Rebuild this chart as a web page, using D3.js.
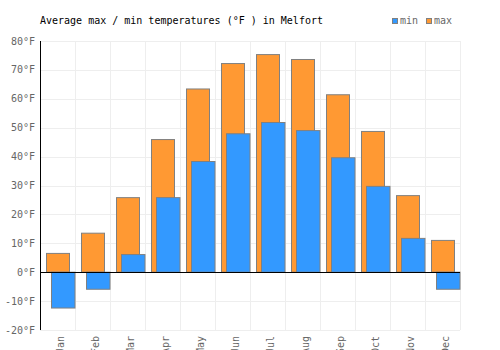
<!DOCTYPE html>
<html>
<head>
<meta charset="utf-8">
<script src="https://cdn.jsdelivr.net/npm/d3@7"></script>
<style>
  body { margin: 0; background: #fff; }
  text { font-family: "DejaVu Sans Mono", monospace; }
</style>
</head>
<body>
<div class="chart"></div>
<script>
let months = ['Jan', 'Feb', 'Mar', 'Apr', 'May', 'Jun', 'Jul', 'Aug', 'Sep', 'Oct', 'Nov', 'Dec'];
let maxTemps = [6.5, 13.5, 25.8, 45.9, 63.4, 72.2, 75.3, 73.6, 61.4, 48.7, 26.5, 11.0];
let minTemps = [-12.4, -5.9, 6.1, 25.8, 38.3, 47.9, 51.8, 49.0, 39.6, 29.7, 11.7, -5.9];
let yTicks = [80, 70, 60, 50, 40, 30, 20, 10, 0, -10, -20];

let _width = 500, _height = 350;
let margin = {left: 40, right: 40, top: 41, bottom: 20};

let svg = d3.select('.chart')
    .append('svg')
    .attr('width', _width)
    .attr('height', _height);

let x = d3.scaleBand()
    .domain(months)
    .range([margin.left, _width - margin.right]);
let y = d3.scaleLinear()
    .domain([-20, 80])
    .range([_height - margin.bottom, margin.top]);

// grid
let grid = svg.append('g').attr('stroke', '#eeeeee').attr('stroke-width', 1);
grid.selectAll('.hgrid')
    .data(yTicks)
    .enter().append('line')
    .attr('x1', margin.left).attr('x2', _width - margin.right)
    .attr('y1', d => Math.round(y(d)) + 0.5).attr('y2', d => Math.round(y(d)) + 0.5);
grid.selectAll('.vgrid')
    .data(months.concat(['end']))
    .enter().append('line')
    .attr('x1', (d, i) => Math.round(margin.left + i * x.bandwidth()) + 0.5)
    .attr('x2', (d, i) => Math.round(margin.left + i * x.bandwidth()) + 0.5)
    .attr('y1', margin.top).attr('y2', _height - margin.bottom);

// max bars (behind)
svg.append('g')
    .selectAll('rect')
    .data(maxTemps)
    .enter().append('rect')
    .attr('x', (d, i) => x(months[i]) + 6.5)
    .attr('width', 23)
    .attr('y', d => y(Math.max(d, 0)))
    .attr('height', d => Math.abs(y(d) - y(0)))
    .style('fill', '#ff9933')
    .attr('stroke', '#808080')
    .attr('stroke-width', 1);

// min bars (front)
svg.append('g')
    .selectAll('rect')
    .data(minTemps)
    .enter().append('rect')
    .attr('x', (d, i) => x(months[i]) + 11.5)
    .attr('width', 23.5)
    .attr('y', d => y(Math.max(d, 0)))
    .attr('height', d => Math.abs(y(d) - y(0)))
    .style('fill', '#3399ff')
    .attr('stroke', '#808080')
    .attr('stroke-width', 1);

// zero line and left axis
svg.append('line')
    .attr('x1', margin.left).attr('x2', _width - margin.right)
    .attr('y1', Math.round(y(0)) + 0.5).attr('y2', Math.round(y(0)) + 0.5)
    .attr('stroke', '#000');
svg.append('line')
    .attr('x1', margin.left + 0.5).attr('x2', margin.left + 0.5)
    .attr('y1', margin.top).attr('y2', _height - margin.bottom)
    .attr('stroke', '#000');

// y labels
svg.append('g')
    .selectAll('text')
    .data(yTicks)
    .enter().append('text')
    .attr('x', 35)
    .attr('y', d => y(d))
    .attr('dy', '0.35em')
    .attr('text-anchor', 'end')
    .attr('fill', '#666')
    .style('font-size', '10px')
    .text(d => d + '°F');

// month labels
svg.append('g')
    .selectAll('text')
    .data(months)
    .enter().append('text')
    .attr('transform', d => 'translate(' + (x(d) + x.bandwidth() / 2 + 6) + ',336) rotate(-90)')
    .attr('text-anchor', 'end')
    .attr('fill', '#666')
    .style('font-size', '10px')
    .text(d => d);

// title
svg.append('text')
    .attr('x', 40)
    .attr('y', 24)
    .attr('fill', '#000')
    .style('font-size', '10px')
    .text('Average max / min temperatures (°F ) in Melfort');

// legend
let legend = [{name: 'min', color: '#3399ff', x: 392}, {name: 'max', color: '#ff9933', x: 426}];
let lg = svg.append('g')
    .selectAll('g')
    .data(legend)
    .enter().append('g');
lg.append('rect')
    .attr('x', d => d.x + 0.5).attr('y', 18.5)
    .attr('width', 5).attr('height', 5)
    .style('fill', d => d.color)
    .attr('stroke', '#808080');
lg.append('text')
    .attr('x', d => d.x + 8)
    .attr('y', 24)
    .attr('fill', '#666')
    .style('font-size', '10px')
    .text(d => d.name);
</script>
</body>
</html>
